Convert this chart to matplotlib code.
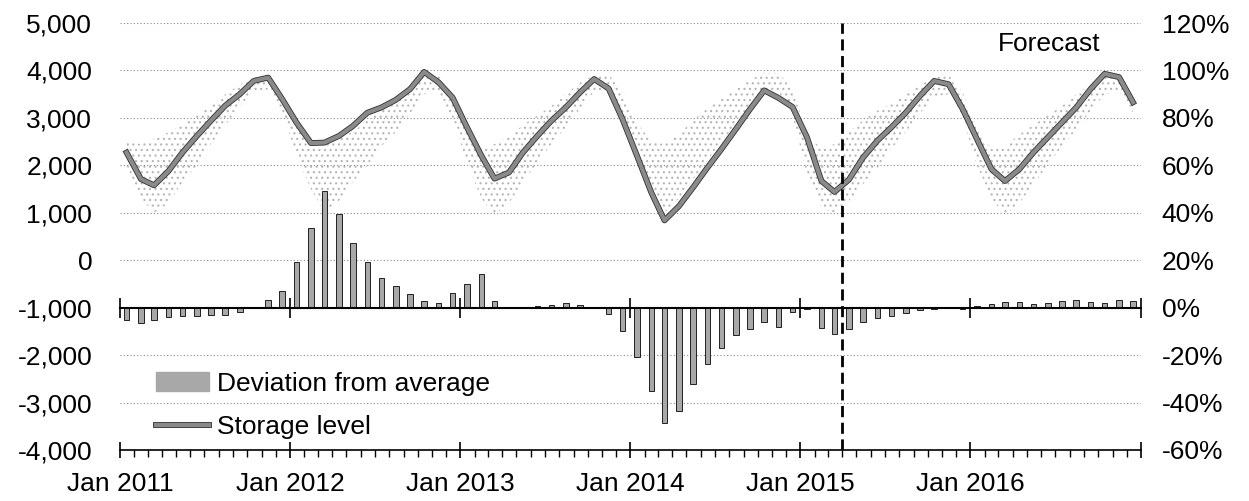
import numpy as np
import pandas as pd
import matplotlib
matplotlib.use("Agg")
import matplotlib.pyplot as plt
import matplotlib.dates as mdates
import matplotlib.patheffects as pe
from matplotlib.patches import Patch
from matplotlib.lines import Line2D
from matplotlib.ticker import FuncFormatter

plt.rcParams['font.family'] = ['Liberation Sans', 'DejaVu Sans']
plt.rcParams['hatch.linewidth'] = 0.8

# monthly data, Jan 2011 - Dec 2016
months = pd.date_range("2011-01-01", "2016-12-01", freq="MS")

storage = [2270, 1710, 1580, 1880, 2270, 2620, 2940, 3260, 3500, 3780, 3850, 3400,
           2900, 2470, 2480, 2620, 2830, 3110, 3220, 3380, 3610, 3970, 3750, 3430,
           2800, 2200, 1720, 1850, 2270, 2620, 2940, 3220, 3540, 3820, 3620, 2970,
           2200, 1420, 840, 1140, 1530, 1950, 2340, 2760, 3190, 3580, 3420, 3230,
           2590, 1670, 1440, 1700, 2160, 2520, 2800, 3110, 3470, 3780, 3710, 3190,
           2550, 1920, 1670, 1920, 2270, 2590, 2900, 3220, 3610, 3930, 3860, 3330]

range_min = [2000, 1300, 1000, 1200, 1650, 2000, 2450, 2850, 3250, 3550, 3600, 3150,
             2200, 1500, 1000, 1250, 1650, 2000, 2400, 2700, 3100, 3500, 3550, 3000,
             2050, 1300, 950, 1200, 1650, 2050, 2450, 2800, 3200, 3550, 3600, 3050,
             2100, 1400, 1000, 1300, 1700, 2100, 2500, 2850, 3250, 3550, 3550, 3050,
             1800, 1100, 1000, 1250, 1600, 1950, 2350, 2700, 3100, 3450, 3500, 3000,
             2000, 1300, 950, 1200, 1600, 2000, 2400, 2750, 3150, 3500, 3550, 3000]

range_max = [2500, 2450, 2550, 2700, 2850, 3050, 3250, 3500, 3700, 3850, 3880, 3550,
             2900, 2400, 2450, 2600, 2700, 2950, 3150, 3350, 3650, 3880, 3900, 3500,
             2800, 2350, 2450, 2600, 2850, 3050, 3250, 3500, 3750, 3900, 3920, 3550,
             2900, 2500, 2450, 2650, 2950, 3200, 3400, 3600, 3800, 3950, 3950, 3600,
             2650, 2350, 2450, 2700, 2950, 3150, 3300, 3500, 3700, 3850, 3900, 3550,
             2750, 2350, 2400, 2650, 2850, 3050, 3250, 3500, 3700, 3900, 3950, 3500]

deviation = [-5.3, -6.3, -5.0, -4.0, -3.4, -3.4, -3.0, -3.0, -2.0, 0.0, 3.2, 7.0,
             19.4, 33.8, 49.0, 39.6, 27.4, 19.4, 12.7, 9.3, 5.9, 3.0, 2.0, 6.3,
             10.0, 14.2, 3.0, -0.3, 0.3, 0.5, 1.2, 1.8, 1.0, 0.0, -2.7, -10.0,
             -21.0, -35.0, -48.5, -43.5, -32.0, -23.7, -17.0, -11.6, -9.0, -6.0, -8.0, -1.8,
             -0.5, -8.4, -11.0, -9.0, -6.2, -4.3, -3.4, -2.2, -1.0, -0.5, 0.2, -0.5,
             0.6, 1.4, 2.4, 2.4, 1.7, 2.0, 2.8, 3.4, 2.4, 2.0, 3.4, 2.8]

forecast_start = pd.Timestamp("2015-04-01")
x = months + pd.Timedelta(days=14)

fig = plt.figure(figsize=(12.49, 5.01), dpi=100)
ax = fig.add_axes([0.0961, 0.1018, 0.8174, 0.8522])
ax2 = ax.twinx()

# historical range band (stippled)
ax.fill_between(x, range_min, range_max, facecolor='none', edgecolor='#b4b4b4',
                hatch='...', linewidth=0, zorder=1)

# storage level line
ax.plot(x, storage, color='#8a8a8a', lw=3, zorder=3,
        path_effects=[pe.Stroke(linewidth=4.2, foreground='#303030'), pe.Normal()])

# deviation bars on right axis
ax2.bar(x, deviation, width=12, color='#a8a8a8', edgecolor='#202020', linewidth=0.7,
        zorder=2)

ax.axvline(forecast_start, color='black', ls=(0, (4, 2)), lw=2, zorder=4)
ax.text(pd.Timestamp("2016-06-18"), 4550, "Forecast", ha='center', va='center', fontsize=19)

ax.set_xlim(pd.Timestamp("2011-01-01"), pd.Timestamp("2017-01-01"))
ax.set_ylim(-4000, 5000)
ax2.set_ylim(-60, 120)

ax.set_yticks(np.arange(-4000, 5001, 1000))
ax2.set_yticks(np.arange(-60, 121, 20))
ax.yaxis.set_major_formatter(FuncFormatter(lambda v, p: '{:,.0f}'.format(v)))
ax2.yaxis.set_major_formatter(FuncFormatter(lambda v, p: '{:.0f}%'.format(v)))

ax.grid(axis='y', ls=(0, (1, 2)), color='#888888', lw=0.8)
for val, gl in zip(ax.get_yticks(), ax.yaxis.get_gridlines()):
    if val in (-4000, -1000):
        gl.set_visible(False)

years = pd.date_range("2011-01-01", "2017-01-01", freq="YS")
ax.set_xticks(years)
ax.set_xticklabels(["Jan %d" % d.year if d.year < 2017 else "" for d in years])
ax.xaxis.set_minor_locator(mdates.MonthLocator())

for s in ['top', 'left', 'right']:
    ax.spines[s].set_visible(False)
    ax2.spines[s].set_visible(False)
ax.spines['bottom'].set_linewidth(1.2)

# baseline axis at 0% with year ticks
ax2.xaxis.set_visible(True)
ax2.spines['bottom'].set_position(('data', 0))
ax2.spines['bottom'].set_linewidth(1.5)
ax2.tick_params(axis='x', which='major', direction='inout', length=14, width=1.2,
                labelbottom=False)
ax2.tick_params(axis='x', which='minor', length=0)

ax.tick_params(axis='x', which='major', direction='inout', length=12, width=1.2,
               labelsize=19, pad=10)
ax.tick_params(axis='x', which='minor', direction='out', length=5, width=1)
ax.tick_params(axis='y', length=0, labelsize=19, pad=20)
ax2.tick_params(axis='y', length=0, labelsize=19, pad=15)

handles = [Patch(facecolor='#a8a8a8', edgecolor='#a8a8a8', hatch='....'),
           Line2D([], [], color='#8a8a8a', lw=3,
                  path_effects=[pe.Stroke(linewidth=4.2, foreground='#303030'), pe.Normal()])]
ax2.legend(handles, ["Deviation from average", "Storage level"], loc='lower left',
           bbox_to_anchor=(0.025, 0.0), frameon=False, fontsize=19,
           handlelength=2.0, handletextpad=0.3, labelspacing=0.75, borderaxespad=0)

plt.savefig('out.png', dpi=100)
